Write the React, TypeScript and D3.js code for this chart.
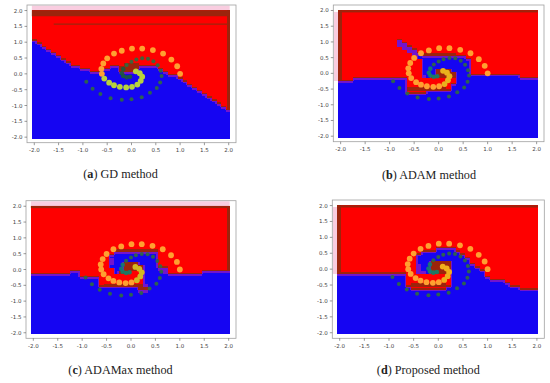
import React from 'react';
import * as d3 from 'd3';

// ---------- data ----------
const meshX = d3.range(41).map((i) => Math.round((-2 + i * 0.1) * 10) / 10);
const meshY = d3.range(41).map((j) => Math.round((2 - j * 0.1) * 10) / 10);
const xTicks = [-2, -1.5, -1, -0.5, 0, 0.5, 1, 1.5, 2];
const yTicks = [2, 1.5, 1, 0.5, 0, -0.5, -1, -1.5, -2];

// y of the red/blue boundary for every mesh column (x = -2.0 ... 2.0)
const boundaryGD = [1.1, 1.0, 0.85, 0.75, 0.65, 0.55, 0.45, 0.38, 0.3, 0.22, 0.17, 0.13, 0.1, 0.1, 0.12, 0.18, 0.22, 0.25, 0.28, 0.3, 0.3, 0.3, 0.3, 0.28, 0.27, 0.25, 0.18, 0.1, 0.0, -0.08, -0.15, -0.25, -0.35, -0.45, -0.52, -0.6, -0.7, -0.8, -0.9, -1.0, -1.1];
const boundaryADAM = [-0.2, -0.2, -0.2, -0.1, -0.1, -0.1, -0.1, -0.1, -0.1, -0.1, -0.1, -0.1, -0.1, -0.1, -0.6, -0.65, -0.65, -0.6, -0.55, -0.55, -0.55, -0.5, -0.5, -0.35, 0.05, 0.05, 0.0, -0.02, -0.02, -0.02, -0.02, -0.02, -0.02, -0.02, -0.02, -0.02, -0.02, -0.1, -0.1, -0.1, -0.1];
const boundaryADAMax = [-0.1, -0.1, -0.1, -0.1, -0.1, -0.1, -0.1, -0.1, 0.0, 0.0, -0.2, -0.2, -0.2, -0.2, -0.5, -0.55, -0.55, -0.55, -0.55, -0.55, -0.55, -0.55, -0.75, -0.75, -0.3, -0.15, -0.15, -0.15, -0.15, -0.15, -0.15, -0.15, -0.15, -0.15, -0.15, -0.05, -0.05, -0.05, -0.05, -0.05, -0.05];
const boundaryProposed = [-0.15, -0.15, -0.15, -0.15, -0.15, -0.15, -0.15, -0.15, -0.15, -0.15, -0.15, -0.15, -0.15, -0.15, -0.55, -0.6, -0.6, -0.6, -0.6, -0.6, -0.6, -0.6, -0.55, 0.65, 0.55, 0.45, 0.35, 0.15, 0.05, -0.05, -0.2, -0.3, -0.35, -0.35, -0.4, -0.5, -0.55, -0.6, -0.65, -0.65, -0.65];

// centre detail, columns x = -1.0 ... 1.0, rows y = 1.1 ... -0.9 ('.' = keep boundary class)
// R red, B blue, D dark red, P purple
const overlayGD = [
  '.....................',
  '.....................',
  '.....................',
  '.....................',
  '.....................',
  '.....................',
  '.....................',
  '.....................',
  '.........DDD.........',
  '........DDDD.........',
  '........DDD..........',
  '.....................',
  '.....................',
  '.....................',
  '.....................',
  '.....................',
  '.....................',
  '.....................',
  '.....................',
  '.....................',
  '.....................',
];
const overlayADAM = [
  '.....................',
  '..P..................',
  '..PP.................',
  '...PP................',
  '....PP...............',
  '.....PPDDDDDDD.......',
  '......BBBBBBBBBB.....',
  '.......BBBBBBBBBB....',
  '.......BBBBBBBBBB....',
  '.......BBBBBBBBBB....',
  '.......BBBDDDBBBB....',
  '.......BBBDDDDBBB....',
  '.......PBDDDDDBBB....',
  '.....................',
  '.....................',
  '.....................',
  '....DDDDDDDD.........',
  '.....................',
  '.....................',
  '.....................',
  '.....................',
];
const overlayADAMax = [
  '.....................',
  '.....................',
  '.....................',
  '.....................',
  '.....................',
  '.......DDDDDDDDD.....',
  '.......BBBBBBBBB.....',
  '......BBBBBBBBBB.....',
  '......PBBBBBBBBB.....',
  '......PBBDDDBBBB.....',
  '......BBBDDDDBBB.....',
  '.......BBDDDDBBBPP...',
  '.......BDD...BBBBP...',
  '.............BB......',
  '.............BB......',
  '.............B.......',
  '.....DDDDDDDDP.......',
  '............DD.......',
  '............PP.......',
  '.....................',
  '.....................',
];
const overlayProposed = [
  '.....................',
  '.....................',
  '.....................',
  '.....................',
  '.....................',
  '..........BBB........',
  '.......BBBBBB........',
  '......BBBBBBB........',
  '......BBBBBBB........',
  '......BBBDDDD........',
  '......PBBDDDD........',
  '......PBBDDDD........',
  '......PPBDDDD........',
  '.....................',
  '.....................',
  '.....................',
  '.....DDDDDDD.........',
  '.....................',
  '.....................',
  '.....................',
  '.....................',
];

// two-spiral training points
const orangeSpiral: [number, number][] = [
  [1.0, 0.0], [0.94, 0.24], [0.82, 0.45], [0.65, 0.64], [0.44, 0.75], [0.22, 0.8], [0.01, 0.8],
  [-0.2, 0.73], [-0.36, 0.64], [-0.5, 0.49], [-0.58, 0.33], [-0.62, 0.16], [-0.61, 0.0],
  [-0.56, -0.15], [-0.46, -0.28], [-0.36, -0.36], [-0.24, -0.41], [-0.11, -0.43], [0.01, -0.41],
  [0.12, -0.34], [0.19, -0.22], [0.22, -0.09], [0.17, 0.02], [0.09, 0.08],
];
const greenSpiral: [number, number][] = [
  [-0.93, -0.25], [-0.8, -0.47], [-0.64, -0.64], [-0.43, -0.77], [-0.2, -0.82], [0.0, -0.8],
  [0.21, -0.74], [0.38, -0.6], [0.52, -0.45], [0.59, -0.27], [0.62, -0.07], [0.6, 0.1],
  [0.54, 0.27], [0.45, 0.4], [0.34, 0.48], [0.22, 0.49], [0.1, 0.45], [0.0, 0.38],
  [-0.1, 0.28], [-0.17, 0.15], [-0.2, 0.02], [-0.17, -0.07], [-0.1, -0.11], [-0.03, -0.09],
];
const gdStreak = [-1.6, 2.0, 1.57];

// ---------- styles ----------
const RED = '#fe0000';
const BLUE = '#1505f2';
const DARK = '#9c240c';
const PURPLE = '#7414cc';
const PINK = '#f9cde0';
const ORANGE = '#ffa030';
const GREEN = '#2f6b3f';

type Panel = {
  letter: string;
  title: string;
  box: [number, number, number, number];
  boundary: number[];
  overlay: string[];
  caption: [number, number];
  split: number;
  innerOrange: string;
  innerGreen: string;
  topBand: number;
  edge: 'left' | 'right';
  streak: boolean;
  halo: 'top' | 'left';
};

const panels: Panel[] = [
  { letter: 'a', title: ' GD method', box: [27, 236, 5, 142.7], boundary: boundaryGD, overlay: overlayGD, caption: [120.5, 178], split: 13, innerOrange: '#b8d23c', innerGreen: '#1d5a3c', topBand: 1.82, edge: 'right', streak: true, halo: 'top' },
  { letter: 'b', title: ' ADAM method', box: [333.3, 544, 5, 141.7], boundary: boundaryADAM, overlay: overlayADAM, caption: [429, 179], split: 19, innerOrange: '#eab21c', innerGreen: '#12806a', topBand: 1.94, edge: 'left', streak: false, halo: 'left' },
  { letter: 'c', title: ' ADAMax method', box: [26, 236, 200.7, 338.3], boundary: boundaryADAMax, overlay: overlayADAMax, caption: [120.5, 374], split: 19, innerOrange: '#d2b822', innerGreen: '#12806a', topBand: 1.94, edge: 'right', streak: false, halo: 'top' },
  { letter: 'd', title: ' Proposed method', box: [332.3, 544.3, 200, 338.3], boundary: boundaryProposed, overlay: overlayProposed, caption: [428.3, 374], split: 19, innerOrange: '#f0ae1c', innerGreen: '#12806a', topBand: 1.94, edge: 'left', streak: false, halo: 'left' },
];

const isRed = (k: string) => k === 'R' || k === 'D';

function lookup(ov: string[], x: number, y: number) {
  const c = Math.round((x + 1.0) * 10);
  const r = Math.round((1.1 - y) * 10);
  if (c < 0 || c > 20 || r < 0 || r > 20) return '.';
  return ov[r][c] || '.';
}

const colorOf: Record<string, string> = { R: RED, B: BLUE, D: DARK, P: PURPLE };

function PanelView({ p }: { p: Panel }) {
  const [l, r, t, b] = p.box;
  const sx = d3.scaleLinear().domain([-2.15, 2.15]).range([l, r]);
  const sy = d3.scaleLinear().domain([-2.175, 2.175]).range([b, t]);
  const cls = meshX.map((x, i) =>
    meshY.map((y) => {
      const o = lookup(p.overlay, x, y);
      if (o !== '.') return o;
      return y >= p.boundary[i] ? 'R' : 'B';
    })
  );
  const cells: React.ReactNode[] = [];
  const tints: React.ReactNode[] = [];
  const halos: React.ReactNode[] = [];
  meshX.forEach((x, i) => {
    meshY.forEach((y, j) => {
      const k = cls[i][j];
      const x0 = sx(Math.max(x - 0.05, -2.05));
      const x1 = sx(Math.min(x + 0.05, 2.02));
      const y0 = sy(Math.min(y + 0.05, 2.01));
      const y1 = sy(Math.max(y - 0.05, -2.05));
      cells.push(<rect key={`c${i}-${j}`} x={x0} y={y0} width={x1 - x0} height={y1 - y0} fill={colorOf[k]} />);
      const below = j < 40 ? cls[i][j + 1] : k;
      const above = j > 0 ? cls[i][j - 1] : k;
      if (k === 'R' && !isRed(below)) {
        tints.push(<rect key={`d${i}-${j}`} x={x0} y={sy(y - 0.005)} width={x1 - x0} height={y1 - sy(y - 0.005)} fill={DARK} />);
      }
      if (k === 'B' && isRed(above)) {
        tints.push(<rect key={`p${i}-${j}`} x={x0} y={y0} width={x1 - x0} height={sy(y) - y0} fill={PURPLE} />);
      }
      if (k === 'B' && i > 0 && isRed(cls[i - 1][j])) {
        tints.push(<rect key={`pl${i}-${j}`} x={x0} y={y0} width={sx(x - 0.02) - x0} height={y1 - y0} fill={PURPLE} />);
      }
      if (k === 'B' && i < 40 && isRed(cls[i + 1][j])) {
        tints.push(<rect key={`pr${i}-${j}`} x={sx(x + 0.02)} y={y0} width={x1 - sx(x + 0.02)} height={y1 - y0} fill={PURPLE} />);
      }
      const edgeI = p.edge === 'left' ? 0 : 40;
      if (i === edgeI && isRed(k)) {
        const ex0 = p.edge === 'left' ? sx(-2.05) : sx(1.96);
        const ex1 = p.edge === 'left' ? sx(-1.98) : sx(2.02);
        tints.push(<rect key={`e${i}-${j}`} x={ex0} y={y0} width={ex1 - ex0} height={y1 - y0} fill={DARK} />);
      }
      if (p.halo === 'left' && i === 0 && isRed(k) && j > 0) {
        halos.push(<rect key={`h${j}`} x={l + 0.6} y={y0} width={x0 - l - 0.6} height={y1 - y0} fill={PINK} />);
      }
    });
  });

  const tickFont = { fontFamily: 'DejaVu Sans, sans-serif', fontSize: 5.5, fill: '#444' };

  return (
    <g>
      <g shapeRendering="crispEdges">{halos}</g>
      {p.halo === 'top' && (
        <rect x={sx(-2.05)} y={t + 0.6} width={sx(2.02) - sx(-2.05)} height={sy(2.01) - t - 0.6} fill={PINK} />
      )}
      <g shapeRendering="crispEdges">{cells}</g>
      <g shapeRendering="crispEdges">{tints}</g>
      <rect x={sx(-2.05)} y={sy(2.01)} width={sx(2.02) - sx(-2.05)} height={sy(p.topBand) - sy(2.01)} fill={DARK} />
      {p.streak && (
        <line x1={sx(gdStreak[0])} x2={sx(gdStreak[1])} y1={sy(gdStreak[2])} y2={sy(gdStreak[2])} stroke={DARK} strokeWidth={1.4} />
      )}
      {greenSpiral.map(([gx, gy], i) => (
        <circle key={`g${i}`} cx={sx(gx)} cy={sy(gy)} r={i >= 19 ? 2.3 : 2.0} fill={i >= 19 ? p.innerGreen : GREEN} opacity={0.9} />
      ))}
      {orangeSpiral.map(([ox, oy], i) => (
        <circle key={`o${i}`} cx={sx(ox)} cy={sy(oy)} r={2.9} fill={i >= p.split ? p.innerOrange : ORANGE} />
      ))}
      <rect x={l} y={t} width={r - l} height={b - t} fill="none" stroke="#a0a0a0" strokeWidth={0.8} />
      {xTicks.map((v) => (
        <g key={`xt${v}`}>
          <line x1={sx(v)} x2={sx(v)} y1={b} y2={b + 2.5} stroke="#555" strokeWidth={0.6} />
          <text x={sx(v)} y={b + 9.3} textAnchor="middle" {...tickFont}>{v.toFixed(1)}</text>
        </g>
      ))}
      {yTicks.map((v) => (
        <g key={`yt${v}`}>
          <line x1={l - 2.5} x2={l} y1={sy(v)} y2={sy(v)} stroke="#555" strokeWidth={0.6} />
          <text x={l - 4.5} y={sy(v) + 2} textAnchor="end" {...tickFont}>{v.toFixed(1)}</text>
        </g>
      ))}
      <text x={p.caption[0]} y={p.caption[1]} textAnchor="middle" fontFamily="Liberation Serif, serif" fontSize={12.2} fill="#222">
        (<tspan fontWeight="bold">{p.letter}</tspan>){p.title}
      </text>
    </g>
  );
}

export default function App() {
  return (
    <svg width={550} height={383} style={{ position: 'absolute', left: 0, top: 0, background: '#fff' }}>
      <rect x={0} y={0} width={550} height={383} fill="#fff" />
      {panels.map((p) => (
        <PanelView key={p.letter} p={p} />
      ))}
    </svg>
  );
}
